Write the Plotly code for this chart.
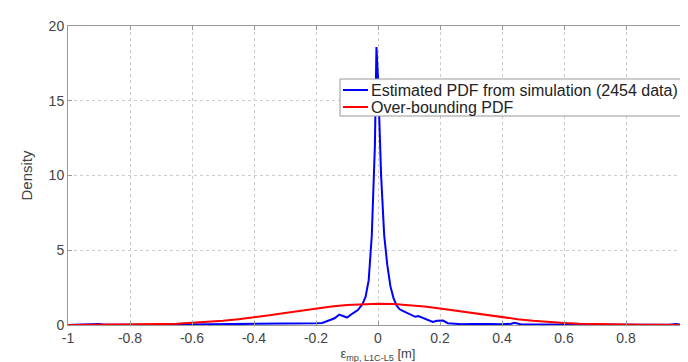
import plotly.graph_objects as go

# Estimated PDF from simulation (blue)
blue_x = [-1.0, -0.95, -0.92, -0.9, -0.88, -0.85, -0.8, -0.75, -0.7, -0.65, -0.6, -0.55, -0.5,
          -0.45, -0.4, -0.35, -0.3, -0.27, -0.25, -0.22, -0.2, -0.18, -0.16, -0.14, -0.125,
          -0.11, -0.1, -0.08, -0.065, -0.05, -0.04, -0.03, -0.02, -0.01, -0.005, 0.0, 0.005,
          0.01, 0.02, 0.03, 0.04, 0.05, 0.06, 0.07, 0.08, 0.1, 0.12, 0.13, 0.145, 0.16, 0.177,
          0.19, 0.21, 0.225, 0.24, 0.27, 0.3, 0.33, 0.36, 0.4, 0.43, 0.44, 0.46, 0.5, 0.55,
          0.6, 0.65, 0.7, 0.8, 0.9, 0.94, 0.96, 0.98, 1.0]
blue_y = [0.0, 0.01, 0.02, 0.06, 0.01, 0.0, 0.0, 0.01, 0.01, 0.02, 0.02, 0.03, 0.04,
          0.03, 0.05, 0.04, 0.06, 0.08, 0.07, 0.1, 0.12, 0.14, 0.3, 0.45, 0.7,
          0.55, 0.5, 0.8, 1.0, 1.4, 1.9, 3.0, 6.0, 12.0, 18.6, 16.5, 13.5,
          10.0, 6.0, 4.0, 2.6, 1.8, 1.3, 1.05, 0.95, 0.75, 0.55, 0.6, 0.48, 0.35, 0.2,
          0.28, 0.3, 0.12, 0.08, 0.05, 0.06, 0.04, 0.06, 0.05, 0.08, 0.15, 0.05, 0.04, 0.03,
          0.03, 0.02, 0.01, 0.01, 0.01, 0.02, 0.06, 0.01, 0.0]

# Over-bounding PDF (red)
red_x = [-1.0, -0.95, -0.9, -0.85, -0.8, -0.75, -0.7, -0.65, -0.6, -0.55, -0.5, -0.45, -0.4,
         -0.35, -0.3, -0.25, -0.2, -0.15, -0.1, -0.05, 0.0, 0.05, 0.1, 0.15, 0.2, 0.25, 0.3,
         0.35, 0.4, 0.45, 0.5, 0.55, 0.6, 0.65, 0.7, 0.75, 0.8, 0.85, 0.9, 0.95, 1.0]
red_y = [0.003, 0.005, 0.01, 0.015, 0.025, 0.04, 0.06, 0.09, 0.14, 0.2, 0.28, 0.39, 0.51,
         0.65, 0.81, 0.96, 1.11, 1.24, 1.34, 1.4, 1.42, 1.4, 1.34, 1.24, 1.11, 0.96, 0.81,
         0.65, 0.51, 0.39, 0.28, 0.2, 0.14, 0.09, 0.06, 0.04, 0.025, 0.015, 0.01, 0.005, 0.003]

x_ticks = [-1, -0.8, -0.6, -0.4, -0.2, 0, 0.2, 0.4, 0.6, 0.8, 1]
x_tick_labels = ["-1", "-0.8", "-0.6", "-0.4", "-0.2", "0", "0.2", "0.4", "0.6", "0.8", "1"]
y_ticks = [0, 5, 10, 15, 20]

series_names = ["Estimated PDF from simulation (2454 data)", "Over-bounding PDF"]
series_colors = ["#0000ff", "#ff0000"]

FONT = "Liberation Sans, Arial"
TICK_COLOR = "#444444"
W, H = 688, 362
ML, MR, MT, MB = 60, 8, 18, 45
PW, PH = W - ML - MR, H - MT - MB


def px(xp):
    return (xp - ML) / PW


def py(yp):
    return (H - MB - yp) / PH


fig = go.Figure()
for xs, ys, name, col in [(blue_x, blue_y, series_names[0], series_colors[0]),
                          (red_x, red_y, series_names[1], series_colors[1])]:
    fig.add_trace(go.Scatter(x=xs, y=ys, mode="lines", showlegend=False,
                             line=dict(color=col, width=2), name=name))

axis_common = dict(showline=True, linecolor="#999999", linewidth=1, mirror="ticks",
                   ticks="inside", ticklen=4, tickcolor="#999999",
                   showgrid=True, gridcolor="#cccccc", griddash="dot", gridwidth=1,
                   zeroline=False, tickfont=dict(family=FONT, size=14, color=TICK_COLOR))

# last x label is placed as an annotation (plotly hides it at the div edge)
shown_labels = x_tick_labels[:-1] + [""]
fig.update_xaxes(range=[-1, 1], tickmode="array", tickvals=x_ticks, ticktext=shown_labels,
                 title=dict(text="ε<sub>mp, L1C-L5</sub> [m]", standoff=0,
                            font=dict(family=FONT, size=13, color=TICK_COLOR)),
                 **axis_common)
fig.update_yaxes(range=[0, 20], tickmode="array", tickvals=y_ticks,
                 title=dict(text="Density", standoff=12,
                            font=dict(family=FONT, size=15, color=TICK_COLOR)),
                 **axis_common)

# Legend drawn as a MATLAB-style box
shapes = [dict(type="rect", xref="paper", yref="paper",
               x0=px(332), x1=px(675), y0=py(108), y1=py(71),
               fillcolor="white", line=dict(color="#999999", width=1), layer="above")]
annotations = [dict(xref="x", yref="paper", x=x_ticks[-1], y=0, yshift=-1,
                    xanchor="center", yanchor="top", showarrow=False,
                    text=x_tick_labels[-1], font=dict(family=FONT, size=14, color=TICK_COLOR))]
row_y = [82, 99]
for name, col, ry in zip(series_names, series_colors, row_y):
    shapes.append(dict(type="line", xref="paper", yref="paper",
                       x0=px(335), x1=px(360), y0=py(ry), y1=py(ry),
                       line=dict(color=col, width=2), layer="above"))
    annotations.append(dict(xref="paper", yref="paper", x=px(361), y=py(ry),
                            xanchor="left", yanchor="middle", showarrow=False,
                            text=name, font=dict(family=FONT, size=16, color="#222222")))

fig.update_layout(
    width=W, height=H,
    margin=dict(l=ML, r=MR, t=MT, b=MB),
    plot_bgcolor="white", paper_bgcolor="white",
    shapes=shapes, annotations=annotations,
)

fig.write_html("out.html")
